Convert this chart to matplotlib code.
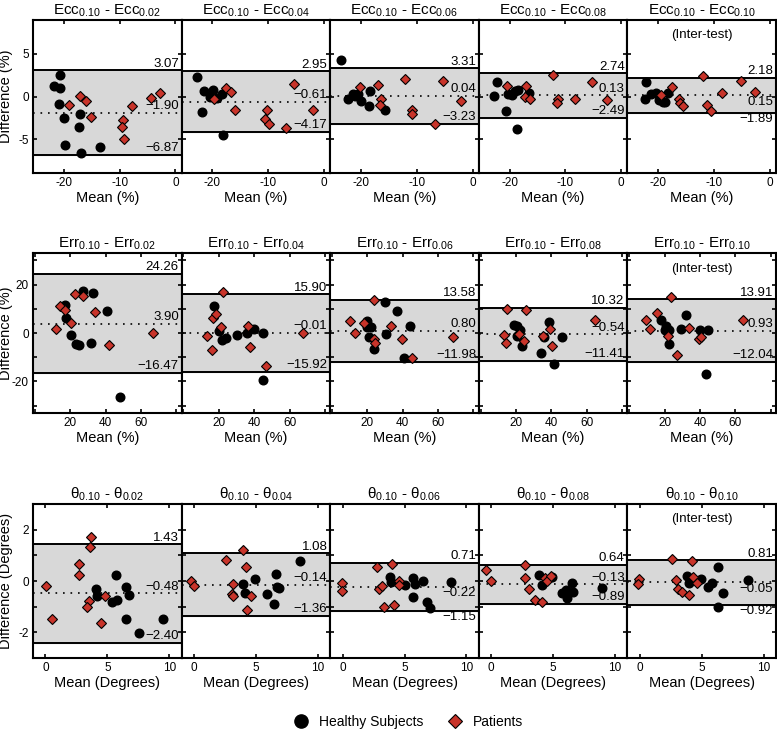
import matplotlib
matplotlib.use("Agg")
import matplotlib.pyplot as plt
from matplotlib.lines import Line2D

plt.rcParams['font.family'] = ['Liberation Sans', 'DejaVu Sans']
plt.rcParams['mathtext.fontset'] = 'custom'
plt.rcParams['mathtext.rm'] = 'Liberation Sans'
plt.rcParams['axes.unicode_minus'] = False

# ---- Eccentricity (%) ----
ecc_titles = ['0.02', '0.04', '0.06', '0.08', '0.10']
ecc_limits = [(3.07, -1.90, -6.87), (2.95, -0.61, -4.17), (3.31, 0.04, -3.23),
              (2.74, 0.13, -2.49), (2.18, 0.15, -1.89)]
ecc_healthy_x = [
    [-20.7, -21.7, -20.6, -20.9, -19.9, -17.1, -17.3, -19.7, -16.9, -13.5],
    [-22.7, -21.5, -21.8, -19.9, -20.4, -19.1, -18.3, -18.1],
    [-23.6, -22.4, -21.5, -21.1, -20.6, -19.9, -18.5, -18.4, -15.7],
    [-22.7, -22.3, -20.6, -20.3, -19.6, -19.0, -18.4, -16.6, -18.6],
    [-22.2, -22.4, -21.3, -20.4, -19.9, -19.2, -18.7, -18.3],
]
ecc_healthy_y = [
    [2.52, 1.18, 1.02, -0.91, -2.48, -2.09, -3.58, -5.71, -6.61, -5.91],
    [2.28, 0.67, -1.85, 0.79, -0.04, -0.12, 0.31, -4.57],
    [4.29, -0.24, 0.35, 0.04, 0.28, -0.51, -1.10, 0.59, -1.57],
    [0.04, 1.65, -1.65, 0.30, 0.20, 0.60, 0.79, 0.47, -3.86],
    [1.73, -0.28, 0.28, 0.47, -0.39, -0.59, -0.63, 0.47],
]
ecc_patient_x = [
    [-19.1, -17.1, -16.1, -15.1, -9.4, -9.6, -9.3, -7.7, -4.3, -2.7],
    [-19.7, -17.6, -16.7, -15.9, -5.3, -10.3, -1.9, -10.5, -9.8, -6.8],
    [-20.2, -16.9, -16.4, -16.6, -12.1, -10.8, -10.8, -5.3, -2.1, -6.7],
    [-20.4, -17.1, -17.2, -16.3, -12.3, -11.4, -11.5, -8.3, -5.3, -2.5],
    [-19.5, -17.5, -16.3, -16.0, -15.6, -12.0, -11.2, -10.5, -8.5, -5.2, -2.6],
]
ecc_patient_y = [
    [-0.98, 0.08, -0.55, -2.40, -2.76, -3.62, -4.96, -1.10, -0.12, 0.47],
    [-0.24, 1.02, 0.55, -1.57, 1.46, -1.57, -1.57, -2.68, -3.23, -3.66],
    [1.10, 1.34, -0.28, -1.02, 2.05, -1.57, -2.05, 1.81, -0.55, -3.27],
    [1.26, 1.26, 0.00, -0.31, 2.56, -0.28, -0.71, -0.31, 1.65, -0.39],
    [0.12, 1.14, -0.31, -0.79, -1.10, 2.40, -0.98, -1.69, 0.39, 1.81, 0.51],
]

# ---- Error (%) ----
err_titles = ['0.02', '0.04', '0.06', '0.08', '0.10']
err_limits = [(24.26, 3.90, -16.47), (15.90, -0.01, -15.92), (13.58, 0.80, -11.98),
              (10.32, -0.54, -11.41), (13.91, 0.93, -12.04)]
err_healthy_x = [
    [16.9, 17.5, 20.7, 23.2, 25.2, 27.1, 32.9, 31.8, 40.8, 48.0],
    [17.3, 20.0, 21.7, 24.3, 30.3, 35.8, 40.1, 45.2, 44.8],
    [19.6, 20.0, 21.9, 21.1, 23.7, 30.0, 30.4, 36.9, 44.3, 40.5],
    [19.0, 20.8, 22.3, 20.8, 23.3, 34.0, 35.8, 38.8, 46.2, 41.5],
    [17.8, 21.0, 20.1, 22.3, 22.5, 29.1, 32.0, 40.2, 44.7, 43.6],
]
err_healthy_y = [
    [11.7, 6.3, -1.0, -4.7, -5.0, 17.5, 16.6, -4.3, 9.0, -26.3],
    [11.2, 1.0, -2.8, -1.9, -0.7, 0.0, 1.8, 0.0, -19.4],
    [5.0, 2.5, 2.5, -1.7, -6.5, 12.7, -0.3, 9.2, 3.0, -10.5],
    [3.4, 3.0, 1.4, -1.4, -5.2, -8.3, -1.5, 4.4, -1.5, -12.6],
    [5.5, 2.8, 1.1, 1.1, -4.4, 1.8, 7.4, 1.1, 1.4, -17.1],
]
err_patient_x = [
    [11.8, 14.4, 17.1, 20.6, 22.9, 27.2, 34.0, 41.7, 66.8],
    [13.2, 16.2, 16.9, 18.3, 21.3, 22.4, 36.4, 37.7, 46.6, 67.8],
    [10.0, 13.0, 17.9, 23.9, 23.9, 24.3, 33.3, 39.4, 45.2, 68.2],
    [15.0, 13.2, 14.2, 21.9, 24.6, 25.7, 35.1, 39.3, 40.6, 64.9],
    [9.7, 11.8, 15.7, 22.1, 23.5, 26.8, 33.8, 39.3, 40.8, 64.5],
]
err_patient_y = [
    [1.8, 11.3, 9.4, 4.3, 16.0, 15.3, 8.7, -4.8, 0.1],
    [-1.4, -6.9, 6.3, 8.0, 2.5, 16.8, 3.0, -5.9, -13.5, 0.0],
    [4.8, 0.0, 4.3, 13.8, -2.3, -4.3, 3.0, -2.5, -10.5, -1.7],
    [9.9, -1.0, -4.3, -0.3, -3.4, 9.5, -1.1, 1.7, -5.2, 5.4],
    [5.2, 1.7, 8.3, -1.1, 14.9, -9.1, 1.9, -2.6, -1.7, 5.5],
]

# ---- Angle (Degrees) ----
theta_titles = ['0.02', '0.04', '0.06', '0.08', '0.10']
theta_limits = [(1.43, -0.48, -2.40), (1.08, -0.14, -1.36), (0.71, -0.22, -1.15),
                (0.64, -0.13, -0.89), (0.81, -0.05, -0.92)]
theta_healthy_x = [
    [4.09, 4.17, 5.36, 5.81, 5.71, 6.52, 6.76, 6.52, 7.54, 9.48],
    [3.99, 4.12, 4.96, 5.90, 6.60, 6.47, 6.73, 6.87, 8.59],
    [3.81, 3.94, 5.04, 5.71, 5.83, 5.71, 6.50, 6.80, 7.09, 8.76],
    [3.84, 4.09, 4.91, 5.70, 6.02, 6.50, 6.58, 6.15, 8.93],
    [3.84, 4.00, 4.95, 5.54, 5.81, 6.30, 6.75, 6.30, 8.72],
]
theta_healthy_y = [
    [-0.31, -0.57, -0.81, -0.74, 0.22, -0.22, -0.53, -1.48, -2.04, -1.48],
    [-0.13, -0.48, 0.08, -0.51, 0.26, -0.90, -0.22, -0.29, 0.78],
    [0.17, -0.03, -0.14, 0.12, -0.12, -0.61, 0.01, -0.83, -1.04, -0.05],
    [0.22, -0.16, 0.17, -0.48, -0.35, -0.09, -0.44, -0.68, -0.29],
    [0.19, -0.06, 0.09, -0.25, -0.09, 0.53, -0.45, -1.00, 0.04],
]
theta_patient_x = [
    [0.03, 0.54, 2.69, 2.72, 3.66, 3.60, 3.52, 3.38, 4.49, 4.79],
    [-0.24, 0.00, 2.56, 3.15, 3.10, 3.13, 3.99, 4.23, 4.26, 4.58],
    [-0.05, -0.02, 2.76, 2.94, 3.21, 3.37, 4.02, 4.15, 4.53, 4.56],
    [-0.42, -0.04, 2.71, 2.76, 3.06, 3.52, 4.13, 4.32, 4.54, 4.81],
    [-0.06, -0.12, 2.63, 4.20, 2.90, 3.11, 3.39, 4.00, 4.28, 4.60],
]
theta_patient_y = [
    [-0.18, -1.48, 0.65, 0.22, 1.70, 1.34, -0.78, -1.01, -1.64, -0.57],
    [0.01, -0.19, 0.82, -0.13, -0.51, -0.58, 1.21, 0.56, -1.13, -0.58],
    [-0.06, -0.39, 0.53, -0.31, -0.19, -1.00, 0.65, -0.94, 0.00, -0.17],
    [0.43, 0.00, 0.62, 0.13, -0.30, -0.74, -0.83, 0.10, 0.01, 0.19],
    [0.08, -0.12, 0.84, 0.78, 0.04, -0.31, -0.42, -0.56, 0.14, -0.06],
]

# label side for (upper, bias, lower): 'a' above the line, 'b' below
label_sides = [
    ['aaa', 'aaa', 'aaa', 'aaa', 'abb'],
    ['aaa', 'aaa', 'aaa', 'aaa', 'aaa'],
    ['aaa', 'aaa', 'abb', 'aaa', 'abb'],
]

rows = [
    dict(name='Ecc', titles=ecc_titles, limits=ecc_limits,
         hx=ecc_healthy_x, hy=ecc_healthy_y, px=ecc_patient_x, py=ecc_patient_y,
         xlim=(-25.5, 1.1), xticks=[-20, -10, 0], xlabels=['-20', '-10', '0'],
         ylim=(-9, 9), yticks=[-5, 0, 5], ylabels=['-5', '0', '5'],
         ylabel='Difference (%)', xlabel='Mean (%)'),
    dict(name='Err', titles=err_titles, limits=err_limits,
         hx=err_healthy_x, hy=err_healthy_y, px=err_patient_x, py=err_patient_y,
         xlim=(-1, 83), xticks=[0, 20, 40, 60, 80], xlabels=['', '20', '40', '60', ''],
         ylim=(-33, 33), yticks=[-30, -20, -10, 0, 10, 20, 30],
         ylabels=['', '-20', '', '0', '', '20', ''],
         ylabel='Difference (%)', xlabel='Mean (%)'),
    dict(name='θ', titles=theta_titles, limits=theta_limits,
         hx=theta_healthy_x, hy=theta_healthy_y, px=theta_patient_x, py=theta_patient_y,
         xlim=(-1, 11), xticks=[0, 5, 10], xlabels=['0', '5', '10'],
         ylim=(-3, 3), yticks=[-3, -2, -1, 0, 1, 2, 3],
         ylabels=['', '-2', '', '0', '', '2', ''],
         ylabel='Difference (Degrees)', xlabel='Mean (Degrees)'),
]

RED = '#c8342a'
BAND = '#d8d8d8'
W, H = 777, 732
row_px = [(20, 173), (253, 413), (504, 658)]
left0, panel_w = 33, 148.6

fig = plt.figure(figsize=(W / 100, H / 100), dpi=100)


def fmt(v):
    return f'{v:.2f}'.replace('-', '\u2212')


for r, cfg in enumerate(rows):
    top, bot = row_px[r]
    for c in range(5):
        ax = fig.add_axes([(left0 + panel_w * c) / W, 1 - bot / H,
                           panel_w / W, (bot - top) / H])
        upper, bias, lower = cfg['limits'][c]
        ax.axhspan(lower, upper, color=BAND, zorder=0)
        ax.axhline(upper, color='black', lw=1.4, zorder=1)
        ax.axhline(lower, color='black', lw=1.4, zorder=1)
        ax.axhline(bias, color='black', lw=1.2, ls=(0, (1, 3.5)), zorder=1)

        ax.plot(cfg['hx'][c], cfg['hy'][c], 'o', color='black', ms=6.2, zorder=3)
        ax.plot(cfg['px'][c], cfg['py'][c], 'D', color=RED, mec='black',
                mew=0.8, ms=4.6, zorder=4)

        for val, side in zip((upper, bias, lower), label_sides[r][c]):
            dy = 0.5 if side == 'a' else -0.5
            ax.annotate(fmt(val), xy=(1, val), xycoords=('axes fraction', 'data'),
                        xytext=(-2, dy), textcoords='offset points',
                        ha='right', va='bottom' if side == 'a' else 'top',
                        fontsize=9.5, zorder=5)

        n = cfg['name']
        ax.set_title(f'{n}$_{{\\mathregular{{0.10}}}}$ - {n}$_{{\\mathregular{{{cfg["titles"][c]}}}}}$',
                     fontsize=11, pad=4)
        if c == 4:
            ax.text(0.5, 0.9, '(Inter-test)', transform=ax.transAxes,
                    ha='center', va='center', fontsize=9.5)

        ax.set_xlim(cfg['xlim'])
        ax.set_ylim(cfg['ylim'])
        ax.set_xticks(cfg['xticks'])
        ax.set_xticklabels(cfg['xlabels'])
        ax.set_yticks(cfg['yticks'])
        if c == 0:
            ax.set_yticklabels(cfg['ylabels'])
            ax.set_ylabel(cfg['ylabel'], fontsize=10.5)
            ax.yaxis.set_label_coords(-20 / panel_w, 0.5)
        else:
            ax.set_yticklabels([])
        ax.set_xlabel(cfg['xlabel'], fontsize=10.5, labelpad=1)
        ax.tick_params(direction='in', top=True, right=True, length=3,
                       width=1.2, labelsize=8.5, pad=3)
        for s in ax.spines.values():
            s.set_linewidth(1.5)

handles = [Line2D([], [], ls='', marker='o', color='black', ms=9.5),
           Line2D([], [], ls='', marker='D', color=RED, mec='black', mew=0.8, ms=7.5)]
fig.legend(handles, ['Healthy Subjects', 'Patients'], loc='center',
           bbox_to_anchor=(405 / W, 1 - 722 / H), ncol=2, frameon=False,
           fontsize=10, handletextpad=0.3, columnspacing=1.3)

fig.savefig('out.png', dpi=100)
